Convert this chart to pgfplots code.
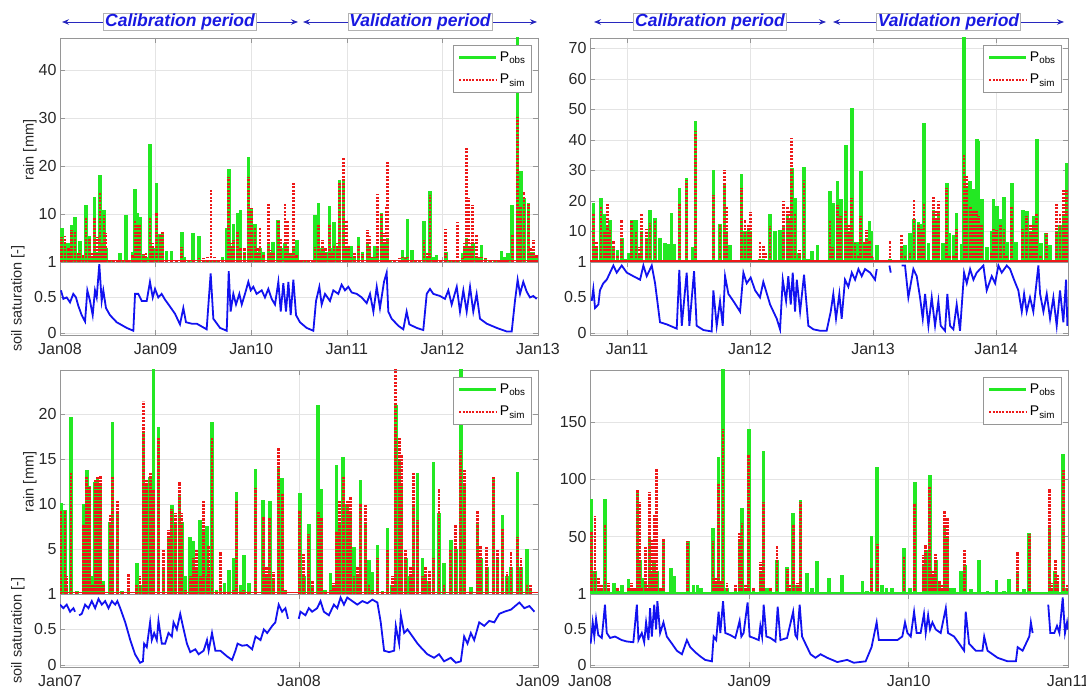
\documentclass[border=0pt]{standalone}
\usepackage{pgfplots}
\pgfplotsset{compat=1.18}
\usepackage{pgfplotstable}
\usepackage{fontspec}
\setmainfont{Liberation Sans}
\usetikzlibrary{arrows.meta}
\definecolor{gobs}{RGB}{35,232,35}
\definecolor{rsim}{RGB}{238,24,24}
\definecolor{soilblue}{RGB}{18,18,240}
\definecolor{perline}{RGB}{40,40,190}
\definecolor{pertext}{RGB}{25,25,225}
\definecolor{axgray}{RGB}{150,150,150}
\definecolor{gridgray}{RGB}{228,228,228}
\definecolor{ticktext}{RGB}{40,40,40}
\newcommand\ticksize{\fontsize{16}{18}\selectfont}
\newcommand\labsize{\fontsize{14.5}{16}\selectfont}
\newcommand\pertitle{\fontsize{17.5}{19}\selectfont\bfseries\itshape}

\pgfplotsset{
  common/.style={
    scale only axis, width=478pt,
    axis line style={draw=axgray, line width=0.7pt},
    every tick/.style={draw=axgray, line width=0.6pt},
    major tick length=5pt, tick align=inside,
    grid=major, major grid style={draw=gridgray, line width=0.5pt},
    tick label style={font=\ticksize, text=ticktext},
    xticklabel style={yshift=-4.5pt},
    /pgf/number format/assume math mode=true,
  },
  rainax/.style={common, height=224pt, ymin=0, xticklabels={},
    ylabel style={font=\labsize, text=ticktext},
    legend image code/.code={\draw[##1] (0pt,0pt) -- (37pt,0pt);},
    legend style={at={(rel axis cs:0.987,0.969)}, anchor=north east,
      draw=axgray, fill=white, font=\fontsize{14}{15}\selectfont,
      inner xsep=4pt, inner ysep=5pt, row sep=7pt},
    legend cell align=left,
  },
  soilax/.style={common, height=73pt, ymin=-0.03, ymax=1,
    ytick={0,0.5,1}, yticklabels={0,0.5,1}, unbounded coords=jump,
    ylabel style={font=\labsize, text=ticktext}},
  obsbar/.style={ycomb, gobs, line width=3.6pt, forget plot},
  simbar/.style={ycomb, rsim, line width=2.8pt, dash pattern=on 2.4pt off 1.1pt, forget plot},
  soilline/.style={soilblue, line width=1.8pt, forget plot},
}

% ---------------- top-left panel ----------------
\pgfplotstableread{
t obs sim
2008.018 7.0 5.3
2008.052 4.0 5.4
2008.087 3.9 3.0
2008.122 7.7 6.6
2008.157 9.4 6.3
2008.190 1.5 2.0
2008.209 4.3 2.5
2008.240 1.0 1.5
2008.272 11.9 9.2
2008.307 5.4 5.0
2008.330 1.0 2.0
2008.359 13.6 9.4
2008.390 2.0 5.3
2008.418 18.1 14.3
2008.440 3.0 4.0
2008.460 10.8 9.7
2008.481 3.0 6.0
2008.520 0.3 0.5
2008.560 0.3 0.5
2008.600 0.3 0.4
2008.628 1.9 0.3
2008.660 0.2 0.3
2008.690 9.8 0.4
2008.720 0.5 0.5
2008.760 2.0 1.5
2008.785 15.3 8.7
2008.809 10.3 8.0
2008.837 9.4 8.0
2008.872 1.5 1.6
2008.900 1.0 2.0
2008.941 24.7 9.1
2008.970 3.0 4.0
2009.011 16.4 10.3
2009.046 5.8 5.8
2009.074 6.2 6.2
2009.116 2.3 0.3
2009.168 2.3 0.3
2009.220 0.3 0.3
2009.273 6.3 3.2
2009.300 1.0 0.5
2009.350 0.3 0.5
2009.394 6.0 0.6
2009.454 5.5 0.8
2009.500 0.3 0.9
2009.540 0.3 1.0
2009.580 0.5 15.3
2009.620 0.3 1.0
2009.660 0.2 0.5
2009.700 1.0 0.5
2009.744 7.0 0.5
2009.765 19.3 17.8
2009.790 3.0 4.0
2009.813 8.0 4.6
2009.855 10.3 6.5
2009.890 10.8 3.0
2009.930 2.0 3.0
2009.970 21.9 17.8
2010.005 11.2 11.2
2010.040 8.0 7.0
2010.065 2.0 3.0
2010.092 3.0 7.1
2010.130 2.0 1.5
2010.179 4.0 12.0
2010.200 2.0 2.5
2010.230 4.2 2.0
2010.283 8.7 8.7
2010.310 3.0 5.0
2010.353 4.0 12.3
2010.377 3.0 8.6
2010.410 1.5 2.0
2010.441 3.0 16.5
2010.476 4.5 1.5
2010.500 0.5 0.5
2010.530 0.4 0.6
2010.563 0.3 0.6
2010.600 0.3 0.5
2010.640 0.5 0.3
2010.667 9.8 3.2
2010.702 12.2 8.0
2010.725 3.0 2.0
2010.748 3.0 4.6
2010.780 2.0 3.0
2010.817 11.7 8.0
2010.840 3.0 2.0
2010.866 8.4 3.4
2010.900 3.0 4.0
2010.922 17.0 16.7
2010.964 17.4 21.6
2010.999 3.0 8.7
2011.020 1.5 3.4
2011.041 3.4 1.0
2011.080 1.0 2.0
2011.121 5.3 3.3
2011.166 2.0 1.6
2011.215 4.0 6.7
2011.236 3.0 5.5
2011.265 1.0 1.0
2011.295 3.4 1.0
2011.323 3.0 14.1
2011.365 10.2 10.0
2011.390 4.0 6.0
2011.410 4.0 11.6
2011.424 5.0 21.0
2011.450 0.4 0.6
2011.500 0.3 0.5
2011.550 0.4 0.8
2011.581 2.5 1.0
2011.610 1.0 0.8
2011.634 8.9 1.0
2011.679 2.5 0.4
2011.720 0.3 0.3
2011.760 0.3 0.3
2011.808 8.6 4.6
2011.840 1.0 2.0
2011.871 14.8 14.0
2011.905 1.0 0.5
2011.940 1.5 0.5
2011.980 0.3 0.5
2012.035 2.0 6.8
2012.080 0.3 0.5
2012.120 0.3 0.6
2012.160 0.5 8.4
2012.212 1.8 0.8
2012.235 3.0 4.0
2012.254 5.0 23.7
2012.271 3.0 13.3
2012.295 3.0 4.0
2012.317 4.0 11.9
2012.358 1.0 5.8
2012.385 1.0 1.0
2012.410 3.6 1.0
2012.450 0.6 0.8
2012.500 0.5 0.6
2012.550 0.4 0.7
2012.585 0.5 0.5
2012.620 2.3 0.5
2012.650 1.0 0.5
2012.683 1.8 0.5
2012.731 11.9 5.7
2012.784 48.0 30.3
2012.800 5.0 6.0
2012.819 18.9 11.4
2012.854 13.4 14.6
2012.899 12.2 12.2
2012.925 2.0 3.0
2012.951 2.0 4.5
2012.985 1.0 1.5
}\rainTL
\pgfplotstableread{
t s
2008.010 0.60
2008.035 0.48
2008.070 0.50
2008.105 0.43
2008.139 0.55
2008.167 0.50
2008.192 0.38
2008.227 0.25
2008.262 0.16
2008.286 0.60
2008.314 0.45
2008.342 0.25
2008.366 0.60
2008.384 0.50
2008.411 0.97
2008.436 0.45
2008.453 0.60
2008.481 0.35
2008.523 0.25
2008.593 0.15
2008.698 0.07
2008.767 0.03
2008.785 0.55
2008.819 0.55
2008.855 0.45
2008.907 0.45
2008.941 0.72
2008.970 0.50
2008.994 0.62
2009.028 0.50
2009.063 0.55
2009.098 0.47
2009.151 0.37
2009.203 0.27
2009.255 0.12
2009.290 0.35
2009.318 0.15
2009.377 0.13
2009.430 0.13
2009.482 0.09
2009.534 0.05
2009.576 0.84
2009.604 0.20
2009.674 0.07
2009.744 0.03
2009.765 0.87
2009.785 0.30
2009.813 0.55
2009.841 0.40
2009.876 0.55
2009.901 0.40
2009.935 0.55
2009.970 0.72
2009.995 0.60
2010.022 0.65
2010.057 0.55
2010.110 0.60
2010.144 0.50
2010.179 0.62
2010.214 0.48
2010.249 0.40
2010.284 0.72
2010.309 0.30
2010.336 0.70
2010.364 0.30
2010.389 0.72
2010.413 0.25
2010.441 0.75
2010.469 0.25
2010.510 0.15
2010.580 0.07
2010.650 0.03
2010.678 0.45
2010.713 0.65
2010.737 0.40
2010.772 0.55
2010.824 0.45
2010.859 0.60
2010.911 0.55
2010.946 0.68
2010.981 0.60
2011.016 0.65
2011.051 0.57
2011.104 0.55
2011.156 0.50
2011.208 0.42
2011.243 0.55
2011.278 0.30
2011.313 0.65
2011.347 0.35
2011.389 0.72
2011.417 0.85
2011.434 0.30
2011.469 0.20
2011.539 0.10
2011.591 0.05
2011.626 0.30
2011.654 0.12
2011.731 0.07
2011.800 0.04
2011.836 0.55
2011.870 0.62
2011.905 0.55
2011.975 0.52
2012.027 0.48
2012.062 0.60
2012.097 0.40
2012.150 0.65
2012.184 0.30
2012.219 0.60
2012.254 0.30
2012.289 0.65
2012.323 0.30
2012.358 0.55
2012.393 0.20
2012.463 0.13
2012.568 0.07
2012.672 0.02
2012.725 0.02
2012.759 0.45
2012.787 0.75
2012.812 0.55
2012.846 0.72
2012.882 0.58
2012.916 0.50
2012.951 0.52
2012.986 0.48
}\soilTL

% ---------------- top-right panel ----------------
\pgfplotstableread{
t obs sim
2010.726 19.4 15.6
2010.753 5.0 6.5
2010.789 21.0 18.3
2010.816 15.6 10.0
2010.843 12.0 19.3
2010.862 13.9 10.5
2010.889 5.0 7.0
2010.921 4.0 2.0
2010.957 8.0 13.9
2010.985 1.0 1.0
2011.011 3.0 0.5
2011.038 13.6 13.6
2011.073 13.9 10.0
2011.100 3.0 5.0
2011.119 10.0 15.6
2011.160 8.0 10.8
2011.187 17.2 12.8
2011.228 14.5 13.5
2011.268 7.8 1.0
2011.309 6.2 1.0
2011.331 6.0 1.0
2011.363 16.1 1.0
2011.385 6.0 1.0
2011.425 24.3 19.4
2011.485 27.4 26.9
2011.534 5.0 0.5
2011.558 46.2 42.9
2011.600 0.5 0.3
2011.650 0.8 0.3
2011.702 30.3 22.1
2011.756 12.6 12.0
2011.791 25.9 30.3
2011.810 10.0 18.3
2011.837 5.6 1.0
2011.880 0.5 0.3
2011.932 28.7 24.3
2011.959 10.0 13.9
2011.986 10.6 12.0
2012.005 10.0 16.3
2012.040 0.3 0.3
2012.081 1.0 6.6
2012.108 1.0 5.6
2012.130 0.5 3.0
2012.163 15.6 11.7
2012.203 10.0 1.0
2012.244 10.5 1.0
2012.271 12.0 19.9
2012.304 15.0 18.2
2012.320 14.0 17.1
2012.339 30.8 40.7
2012.366 20.9 15.6
2012.400 3.0 4.0
2012.439 31.0 27.0
2012.470 1.0 0.5
2012.502 3.5 0.5
2012.548 5.7 0.5
2012.600 0.5 0.3
2012.650 23.2 13.4
2012.672 19.4 5.0
2012.710 26.5 18.8
2012.737 20.6 15.0
2012.778 38.5 17.1
2012.800 10.0 12.0
2012.827 50.5 20.9
2012.854 6.7 6.2
2012.881 6.7 2.0
2012.900 29.8 15.0
2012.927 6.0 6.7
2012.949 8.0 10.5
2012.970 13.4 7.0
2012.989 10.0 2.0
2013.030 5.6 0.5
2013.080 0.3 0.3
2013.138 1.0 7.0
2013.233 5.0 8.7
2013.260 5.5 2.0
2013.301 9.5 3.0
2013.333 14.0 20.3
2013.368 13.0 12.6
2013.396 12.6 10.8
2013.415 45.6 19.4
2013.450 6.2 1.0
2013.490 17.0 21.5
2013.512 14.0 17.1
2013.531 16.0 20.0
2013.567 6.2 1.0
2013.599 25.9 24.3
2013.620 9.5 2.0
2013.653 8.9 2.0
2013.680 15.9 10.8
2013.721 6.0 1.0
2013.740 76.0 35.2
2013.762 25.0 28.1
2013.789 26.5 18.3
2013.816 23.8 17.0
2013.843 40.2 17.1
2013.856 39.6 15.0
2013.884 20.6 12.0
2013.924 5.0 0.5
2013.965 10.0 3.0
2013.978 20.6 10.8
2014.006 18.4 10.5
2014.033 14.0 12.6
2014.065 21.2 10.8
2014.087 6.5 2.0
2014.128 25.9 18.3
2014.163 6.5 1.0
2014.217 17.1 10.8
2014.250 16.6 15.0
2014.282 10.0 12.6
2014.304 15.0 12.0
2014.331 40.2 15.9
2014.363 6.2 2.0
2014.407 9.5 9.5
2014.439 5.6 1.0
2014.493 10.0 19.4
2014.520 12.0 15.9
2014.547 15.0 23.8
2014.575 32.5 23.8
}\rainTR
\pgfplotstableread{
t s
2010.713 0.45
2010.726 0.62
2010.740 0.35
2010.767 0.40
2010.780 0.60
2010.807 0.70
2010.835 0.75
2010.862 0.85
2010.889 0.95
2010.916 0.85
2010.957 0.95
2010.998 0.85
2011.051 0.80
2011.106 0.75
2011.133 0.95
2011.160 0.80
2011.201 0.95
2011.228 0.70
2011.268 0.15
2011.323 0.12
2011.377 0.08
2011.404 0.06
2011.425 0.89
2011.445 0.10
2011.485 0.85
2011.507 0.10
2011.545 0.87
2011.566 0.10
2011.621 0.04
2011.688 0.02
2011.702 0.60
2011.729 0.10
2011.756 0.45
2011.778 0.10
2011.797 0.80
2011.824 0.55
2011.864 0.45
2011.919 0.30
2011.946 0.85
2011.973 0.70
2012.005 0.78
2012.041 0.60
2012.081 0.50
2012.108 0.72
2012.163 0.40
2012.217 0.20
2012.244 0.05
2012.266 0.75
2012.293 0.45
2012.311 0.80
2012.331 0.40
2012.347 0.85
2012.366 0.30
2012.380 0.75
2012.407 0.30
2012.439 0.82
2012.474 0.10
2012.515 0.05
2012.569 0.03
2012.623 0.03
2012.656 0.30
2012.677 0.55
2012.699 0.20
2012.726 0.55
2012.745 0.20
2012.772 0.75
2012.799 0.65
2012.827 0.85
2012.854 0.75
2012.881 0.90
2012.908 0.80
2012.935 0.90
2012.976 0.85
2013.016 0.75
2013.030 0.90
2013.031 nan
2013.133 0.95
2013.144 0.85
2013.145 nan
2013.233 0.95
2013.260 0.95
2013.287 0.50
2013.328 0.90
2013.355 0.80
2013.382 0.50
2013.404 0.20
2013.423 0.55
2013.450 0.10
2013.477 0.50
2013.504 0.10
2013.531 0.45
2013.550 0.10
2013.585 0.03
2013.604 0.55
2013.626 0.10
2013.653 0.05
2013.680 0.40
2013.707 0.03
2013.740 0.85
2013.762 0.70
2013.789 0.90
2013.816 0.75
2013.843 0.85
2013.870 0.90
2013.897 0.95
2013.924 0.60
2013.965 0.80
2013.992 0.70
2014.019 0.95
2014.046 0.85
2014.087 0.95
2014.114 0.90
2014.146 0.75
2014.181 0.60
2014.209 0.30
2014.228 0.55
2014.249 0.30
2014.276 0.50
2014.303 0.30
2014.344 0.95
2014.358 0.55
2014.385 0.30
2014.412 0.55
2014.439 0.20
2014.466 0.50
2014.493 0.10
2014.520 0.60
2014.547 0.15
2014.569 0.75
2014.580 0.10
}\soilTR

% ---------------- bottom-left panel ----------------
\pgfplotstableread{
t obs sim
2007.004 10.1 9.3
2007.021 9.3 9.3
2007.028 1.0 2.0
2007.046 19.7 13.4
2007.070 0.3 0.3
2007.098 10.0 7.7
2007.112 13.8 13.0
2007.123 12.0 12.0
2007.135 2.0 1.0
2007.147 12.5 12.7
2007.157 12.8 13.0
2007.168 12.0 13.2
2007.182 1.5 1.0
2007.210 8.0 8.8
2007.219 19.1 13.0
2007.240 9.0 10.4
2007.260 0.3 0.3
2007.287 0.3 2.3
2007.321 3.4 1.0
2007.335 1.0 2.0
2007.349 18.0 21.4
2007.363 12.0 12.7
2007.377 13.0 13.6
2007.391 26.0 11.6
2007.412 18.6 17.3
2007.433 3.0 5.0
2007.454 6.5 7.1
2007.468 9.9 9.5
2007.482 8.0 9.0
2007.500 11.0 12.5
2007.510 8.0 9.0
2007.524 2.0 0.5
2007.545 6.3 2.0
2007.559 5.9 4.0
2007.570 3.0 5.0
2007.587 8.2 2.0
2007.601 7.0 10.4
2007.615 7.6 2.0
2007.622 3.0 5.4
2007.636 19.1 17.5
2007.655 0.5 0.3
2007.671 1.0 4.7
2007.688 1.2 0.3
2007.706 2.7 0.3
2007.727 4.0 0.5
2007.738 11.3 10.4
2007.755 1.0 0.3
2007.769 4.3 0.5
2007.790 1.2 0.3
2007.818 13.9 11.8
2007.850 10.4 8.6
2007.865 2.0 3.0
2007.878 10.3 8.4
2007.894 1.8 2.5
2007.915 14.0 16.2
2007.930 12.9 11.2
2007.943 0.3 0.5
2008.003 11.2 9.3
2008.020 2.0 4.5
2008.041 7.8 6.7
2008.055 1.0 1.5
2008.080 21.0 9.1
2008.093 11.7 8.4
2008.110 0.5 0.3
2008.132 2.3 0.5
2008.146 1.0 1.2
2008.157 14.3 7.0
2008.171 8.0 10.4
2008.185 15.2 13.0
2008.202 10.0 10.4
2008.216 9.0 10.8
2008.230 5.2 2.0
2008.245 2.0 3.0
2008.258 12.7 10.1
2008.279 8.0 9.9
2008.293 3.8 1.0
2008.307 2.5 0.5
2008.328 5.4 4.0
2008.350 0.3 0.3
2008.370 7.3 5.0
2008.390 1.0 2.0
2008.405 21.0 26.0
2008.419 15.0 17.3
2008.429 12.0 15.4
2008.447 4.0 5.0
2008.465 2.0 3.0
2008.479 10.0 13.6
2008.496 13.4 8.2
2008.517 4.0 2.0
2008.530 2.0 3.0
2008.545 1.5 2.6
2008.563 14.7 4.0
2008.586 9.0 11.7
2008.607 3.4 1.0
2008.635 6.0 5.0
2008.656 5.0 7.7
2008.677 26.0 16.0
2008.691 12.0 13.8
2008.719 0.8 0.3
2008.747 8.0 9.3
2008.761 4.0 5.3
2008.786 3.0 5.2
2008.814 13.0 13.0
2008.831 4.0 5.0
2008.852 8.8 7.3
2008.870 2.0 2.5
2008.887 3.0 4.7
2008.915 13.6 6.3
2008.929 3.0 4.0
2008.954 5.0 1.0
2008.968 0.5 1.0
}\rainBL
\pgfplotstableread{
t s
2007.000 0.85
2007.014 0.80
2007.028 0.85
2007.042 0.75
2007.056 0.80
2007.063 0.75
2007.064 nan
2007.080 0.70
2007.091 0.72
2007.105 0.85
2007.119 0.80
2007.133 0.90
2007.147 0.80
2007.161 0.93
2007.175 0.85
2007.189 0.90
2007.203 0.80
2007.217 0.90
2007.231 0.85
2007.240 0.90
2007.252 0.80
2007.273 0.60
2007.294 0.35
2007.314 0.15
2007.335 0.03
2007.347 0.05
2007.352 0.30
2007.363 0.25
2007.377 0.60
2007.384 0.35
2007.394 0.45
2007.405 0.35
2007.412 0.62
2007.426 0.30
2007.440 0.30
2007.454 0.45
2007.468 0.40
2007.475 0.60
2007.489 0.50
2007.503 0.72
2007.514 0.55
2007.531 0.30
2007.545 0.18
2007.566 0.22
2007.580 0.15
2007.601 0.20
2007.615 0.35
2007.622 0.20
2007.636 0.45
2007.650 0.20
2007.671 0.20
2007.699 0.12
2007.720 0.07
2007.734 0.20
2007.743 0.30
2007.762 0.27
2007.783 0.28
2007.804 0.22
2007.818 0.40
2007.839 0.35
2007.853 0.50
2007.867 0.45
2007.888 0.55
2007.901 0.60
2007.915 0.85
2007.929 0.75
2007.943 0.80
2007.954 0.65
2007.955 nan
2007.999 0.65
2008.006 0.75
2008.027 0.70
2008.041 0.80
2008.055 0.75
2008.076 0.80
2008.090 0.90
2008.104 0.75
2008.125 0.70
2008.146 0.85
2008.160 0.80
2008.174 0.95
2008.188 0.85
2008.202 0.95
2008.223 0.90
2008.244 0.85
2008.265 0.90
2008.286 0.87
2008.307 0.92
2008.328 0.88
2008.342 0.60
2008.356 0.20
2008.377 0.18
2008.398 0.20
2008.405 0.55
2008.419 0.30
2008.426 0.70
2008.440 0.45
2008.454 0.50
2008.475 0.40
2008.496 0.30
2008.509 0.25
2008.537 0.15
2008.565 0.10
2008.586 0.15
2008.607 0.05
2008.635 0.10
2008.656 0.03
2008.677 0.05
2008.691 0.40
2008.705 0.30
2008.719 0.45
2008.733 0.35
2008.754 0.60
2008.775 0.55
2008.796 0.62
2008.817 0.60
2008.838 0.72
2008.859 0.75
2008.887 0.78
2008.922 0.88
2008.943 0.80
2008.964 0.83
2008.985 0.75
}\soilBL

% ---------------- bottom-right panel ----------------
\pgfplotstableread{
t obs sim
2008.010 83 55
2008.031 20 68
2008.052 5 14
2008.070 3 8
2008.094 83 61
2008.115 5 10
2008.151 10 3
2008.175 3 5
2008.199 8 3
2008.241 13 5
2008.262 5 10
2008.280 3 5
2008.298 89 91
2008.314 30 80
2008.325 14 5
2008.346 10 41
2008.360 5 8
2008.373 50 89
2008.388 20 47
2008.403 30 70
2008.419 20 109
2008.440 3 5
2008.461 45 48
2008.485 2 1
2008.509 23 1
2008.530 16 1
2008.570 1 0.5
2008.614 46 46
2008.650 8 1
2008.675 8 1
2008.698 5 1
2008.740 1 1
2008.772 58 46
2008.790 10 15
2008.807 120 96
2008.820 10 12
2008.835 200 144
2008.860 5 10
2008.890 2 3
2008.912 5 8
2008.939 47 53
2008.954 75 62
2008.975 5 8
2008.996 144 121
2009.027 3 5
2009.050 2 2
2009.069 20 28
2009.090 125 80
2009.110 5 3
2009.132 3 5
2009.155 2 3
2009.174 30 42
2009.200 1 2
2009.237 24 22
2009.255 5 8
2009.275 71 61
2009.300 8 10
2009.321 82 80
2009.363 18 1
2009.394 5 1
2009.426 29 1
2009.460 1 0.5
2009.499 14 1
2009.540 1 0.5
2009.583 17 1
2009.640 1 0.5
2009.709 11 1
2009.740 3 1
2009.767 51 23
2009.803 111 44
2009.834 8 3
2009.860 5 2
2009.897 5 2
2009.940 1 0.5
2009.971 40 32
2010.008 5 1
2010.038 98 79
2010.070 2 3
2010.092 25 34
2010.107 38 43
2010.132 104 93
2010.149 15 20
2010.170 30 35
2010.191 10 12
2010.210 5 8
2010.226 60 73
2010.243 50 66
2010.260 5 3
2010.285 5 1
2010.327 20 1
2010.352 25 39
2010.390 4 1
2010.442 30 1
2010.495 3 1
2010.551 12 1
2010.600 3 1
2010.631 13 1
2010.684 20 37
2010.725 4 1
2010.757 53 52
2010.770 2 2
2010.883 60 92
2010.900 5 10
2010.920 20 30
2010.935 10 17
2010.970 122 108
2010.994 5 8
}\rainBR
\pgfplotstableread{
t s
2008.004 0.30
2008.017 0.60
2008.027 0.40
2008.038 0.65
2008.052 0.42
2008.074 0.38
2008.094 0.85
2008.105 0.45
2008.126 0.38
2008.157 0.40
2008.199 0.35
2008.231 0.33
2008.272 0.32
2008.294 0.85
2008.304 0.35
2008.325 0.45
2008.340 0.32
2008.352 0.60
2008.367 0.35
2008.377 0.80
2008.388 0.40
2008.403 0.85
2008.415 0.50
2008.423 0.90
2008.440 0.45
2008.461 0.60
2008.482 0.40
2008.514 0.30
2008.545 0.20
2008.577 0.15
2008.608 0.35
2008.629 0.25
2008.660 0.18
2008.692 0.12
2008.723 0.07
2008.765 0.05
2008.776 0.40
2008.792 0.35
2008.807 0.75
2008.818 0.45
2008.835 0.90
2008.849 0.45
2008.881 0.42
2008.912 0.38
2008.939 0.62
2008.950 0.40
2008.964 0.45
2008.989 0.88
2009.002 0.40
2009.027 0.38
2009.059 0.35
2009.069 0.55
2009.080 0.40
2009.090 0.85
2009.107 0.40
2009.132 0.38
2009.164 0.33
2009.178 0.82
2009.195 0.35
2009.237 0.38
2009.275 0.75
2009.289 0.42
2009.300 0.38
2009.316 0.85
2009.331 0.40
2009.352 0.30
2009.384 0.15
2009.415 0.10
2009.447 0.15
2009.489 0.10
2009.552 0.04
2009.614 0.07
2009.656 0.03
2009.730 0.05
2009.767 0.25
2009.799 0.60
2009.813 0.35
2009.866 0.35
2009.929 0.35
2009.960 0.40
2009.977 0.60
2009.992 0.45
2010.013 0.40
2010.034 0.75
2010.050 0.45
2010.075 0.45
2010.096 0.72
2010.107 0.45
2010.122 0.70
2010.134 0.50
2010.149 0.60
2010.170 0.50
2010.201 0.45
2010.233 0.80
2010.247 0.45
2010.285 0.40
2010.317 0.30
2010.348 0.20
2010.358 0.75
2010.379 0.30
2010.421 0.20
2010.463 0.20
2010.474 0.40
2010.495 0.20
2010.558 0.10
2010.621 0.05
2010.673 0.05
2010.684 0.25
2010.715 0.20
2010.757 0.40
2010.767 0.60
2010.778 0.45
2010.779 nan
2010.876 0.85
2010.889 0.45
2010.914 0.45
2010.931 0.55
2010.946 0.45
2010.967 0.95
2010.981 0.45
2010.994 0.60
2011.000 0.50
}\soilBR

\begin{document}
\begin{tikzpicture}
\path[use as bounding box] (0pt,0pt) rectangle (1086pt,699pt);

% ===== top-left =====
\begin{axis}[rainax, at={(60pt,437pt)}, anchor=south west,
  xmin=2008, xmax=2013, xtick={2008,2009,2010,2011,2012,2013},
  ymax=46.7, ytick={10,20,30,40},
  ylabel={rain [mm]}, ylabel style={at={(axis description cs:-0.063,0.5)}, anchor=center}]
  \addlegendimage{gobs, line width=3.5pt}
  \addlegendentry{P\textsubscript{obs}}
  \addlegendimage{rsim, line width=2.6pt, dash pattern=on 2pt off 1.3pt}
  \addlegendentry{P\textsubscript{sim}}
  \addplot[obsbar] table[x=t, y=obs] {\rainTL};
  \addplot[simbar] table[x=t, y=sim] {\rainTL};
  \addplot[rsim, line width=1.6pt, forget plot] coordinates {(2008,0.3) (2013,0.3)};
\end{axis}
\begin{axis}[soilax, at={(60pt,364pt)}, anchor=south west,
  xmin=2008, xmax=2013, xtick={2008,2009,2010,2011,2012,2013},
  xticklabels={Jan08,Jan09,Jan10,Jan11,Jan12,Jan13},
  ylabel={soil saturation [-]}, ylabel style={at={(axis description cs:-0.088,0.5)}, anchor=center}]
  \addplot[soilline] table[x=t, y=s] {\soilTL};
\end{axis}

% ===== top-right =====
\begin{axis}[rainax, at={(590pt,437pt)}, anchor=south west,
  xmin=2010.699, xmax=2014.585, xtick={2011,2012,2013,2014},
  ymax=73.4, ytick={10,20,30,40,50,60,70}]
  \addlegendimage{gobs, line width=3.5pt}
  \addlegendentry{P\textsubscript{obs}}
  \addlegendimage{rsim, line width=2.6pt, dash pattern=on 2pt off 1.3pt}
  \addlegendentry{P\textsubscript{sim}}
  \addplot[obsbar] table[x=t, y=obs] {\rainTR};
  \addplot[simbar] table[x=t, y=sim] {\rainTR};
  \addplot[rsim, line width=1.6pt, forget plot] coordinates {(2010.699,0.4) (2014.585,0.4)};
\end{axis}
\begin{axis}[soilax, at={(590pt,364pt)}, anchor=south west,
  xmin=2010.699, xmax=2014.585, xtick={2011,2012,2013,2014},
  xticklabels={Jan11,Jan12,Jan13,Jan14}]
  \addplot[soilline] table[x=t, y=s] {\soilTR};
\end{axis}

% ===== bottom-left =====
\begin{axis}[rainax, at={(60pt,105pt)}, anchor=south west,
  xmin=2007, xmax=2009, xtick={2007,2008,2009},
  ymax=24.9, ytick={5,10,15,20},
  ylabel={rain [mm]}, ylabel style={at={(axis description cs:-0.063,0.5)}, anchor=center}]
  \addlegendimage{gobs, line width=3.5pt}
  \addlegendentry{P\textsubscript{obs}}
  \addlegendimage{rsim, line width=2.6pt, dash pattern=on 2pt off 1.3pt}
  \addlegendentry{P\textsubscript{sim}}
  \addplot[obsbar] table[x=t, y=obs] {\rainBL};
  \addplot[simbar] table[x=t, y=sim] {\rainBL};
  \addplot[rsim, line width=1.6pt, forget plot] coordinates {(2007,0.15) (2009,0.15)};
\end{axis}
\begin{axis}[soilax, at={(60pt,32pt)}, anchor=south west,
  xmin=2007, xmax=2009, xtick={2007,2008,2009},
  xticklabels={Jan07,Jan08,Jan09},
  ylabel={soil saturation [-]}, ylabel style={at={(axis description cs:-0.088,0.5)}, anchor=center}]
  \addplot[soilline] table[x=t, y=s] {\soilBL};
\end{axis}

% ===== bottom-right =====
\begin{axis}[rainax, at={(590pt,105pt)}, anchor=south west,
  xmin=2008, xmax=2011, xtick={2008,2009,2010,2011},
  ymax=195.6, ytick={50,100,150}]
  \addlegendimage{gobs, line width=3.5pt}
  \addlegendentry{P\textsubscript{obs}}
  \addlegendimage{rsim, line width=2.6pt, dash pattern=on 2pt off 1.3pt}
  \addlegendentry{P\textsubscript{sim}}
  \addplot[obsbar] table[x=t, y=obs] {\rainBR};
  \addplot[simbar] table[x=t, y=sim] {\rainBR};
  \addplot[gobs, line width=1.6pt, forget plot] coordinates {(2008,1) (2011,1)};
\end{axis}
\begin{axis}[soilax, at={(590pt,32pt)}, anchor=south west,
  xmin=2008, xmax=2011, xtick={2008,2009,2010,2011},
  xticklabels={Jan08,Jan09,Jan10,Jan11}]
  \addplot[soilline] table[x=t, y=s] {\soilBR};
\end{axis}

% ===== period annotations =====
\tikzset{perarrow/.style={perline, line width=0.9pt,
    {Stealth[length=7pt,width=5.5pt]}-{Stealth[length=7pt,width=5.5pt]}},
  perbox/.style={fill=white, draw=gray!60, line width=0.5pt, inner xsep=1.5pt, inner ysep=0.5pt,
    text=pertext, font=\pertitle}}
\draw[perarrow] (62pt,677pt) -- node[perbox] {Calibration period} (298pt,677pt);
\draw[perarrow] (303pt,677pt) -- node[perbox] {Validation period} (537pt,677pt);
\draw[perarrow] (594pt,677pt) -- node[perbox] {Calibration period} (826pt,677pt);
\draw[perarrow] (833pt,677pt) -- node[perbox] {Validation period} (1064pt,677pt);
\end{tikzpicture}
\end{document}
